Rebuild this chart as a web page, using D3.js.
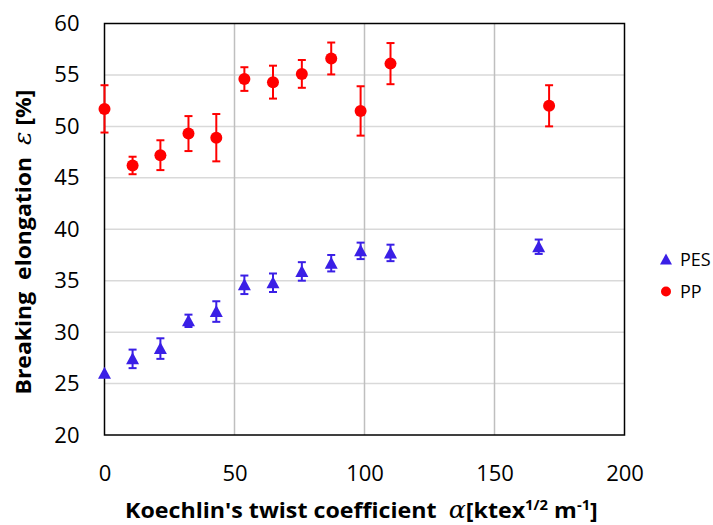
<!DOCTYPE html>
<html><head><meta charset="utf-8">
<script src="https://cdn.jsdelivr.net/npm/d3@7"></script>
<style>
body{margin:0;background:#fff;}
svg text{white-space:pre;}
</style></head>
<body><svg id="c" width="713" height="525"></svg>
<script>
const pesX = [0, 10.8, 21.5, 32.3, 43, 53.8, 64.8, 75.9, 87.2, 98.5, 110, 167];
const pesY = [26.0, 27.4, 28.4, 31.1, 32.0, 34.6, 34.8, 35.9, 36.7, 37.9, 37.7, 38.3];
const pesErr = [0, 0.9, 1.0, 0.6, 1.0, 0.9, 0.9, 0.9, 0.8, 0.8, 0.8, 0.7];
const ppX = [0, 10.8, 21.5, 32.3, 43, 53.8, 64.8, 75.9, 87.2, 98.5, 110, 171];
const ppY = [51.7, 46.2, 47.2, 49.3, 48.9, 54.6, 54.3, 55.1, 56.6, 51.5, 56.1, 52.0];
const ppErr = [2.3, 0.85, 1.45, 1.7, 2.3, 1.15, 1.6, 1.35, 1.55, 2.4, 2.0, 2.0];
const xTicks = [0, 50, 100, 150, 200];
const yTicks = [20, 25, 30, 35, 40, 45, 50, 55, 60];
const seriesNames = ["PES", "PP"];
const colors = {PES: "#3a1fe6", PP: "#ff0000"};

const svg = d3.select("#c");
const L = 104.5, R = 624.5, T = 23.5, B = 435;
const x = d3.scaleLinear().domain([0, 200]).range([L, R]);
const y = d3.scaleLinear().domain([20, 60]).range([B, T]);
const font = "'Open Sans', sans-serif";

// gridlines
svg.append("g").selectAll("line").data(yTicks.slice(1, -1)).join("line")
  .attr("x1", L).attr("x2", R).attr("y1", d => y(d)).attr("y2", d => y(d))
  .attr("stroke", "#d9d9d9").attr("stroke-width", 1.5);
svg.append("g").selectAll("line").data(xTicks.slice(1, -1)).join("line")
  .attr("y1", T).attr("y2", B).attr("x1", d => x(d)).attr("x2", d => x(d))
  .attr("stroke", "#bfbfbf").attr("stroke-width", 1.5);

// border
svg.append("rect").attr("x", L).attr("y", T).attr("width", R - L).attr("height", B - T)
  .attr("fill", "none").attr("stroke", "#000").attr("stroke-width", 1.5);

// axes labels via d3 axes (no lines)
const xa = svg.append("g").attr("transform", `translate(0,${B})`)
  .call(d3.axisBottom(x).tickValues(xTicks).tickSize(0).tickPadding(30));
const ya = svg.append("g").attr("transform", `translate(${L},0)`)
  .call(d3.axisLeft(y).tickValues(yTicks).tickSize(0).tickPadding(25));
[xa, ya].forEach(a => {
  a.select(".domain").remove();
  a.selectAll("text").attr("font-family", font).attr("font-size", 22).attr("fill", "#000");
});

// error bars
function errBars(xs, ys, es, col) {
  const g = svg.append("g").attr("stroke", col).attr("stroke-width", 2).attr("fill", "none");
  const d = xs.map((v, i) => ({x: v, y: ys[i], e: es[i]})).filter(d => d.e > 0);
  g.selectAll(".v").data(d).join("line")
    .attr("x1", d => x(d.x)).attr("x2", d => x(d.x))
    .attr("y1", d => y(d.y - d.e)).attr("y2", d => y(d.y + d.e));
  g.selectAll(".t").data(d).join("line")
    .attr("x1", d => x(d.x) - 4).attr("x2", d => x(d.x) + 4)
    .attr("y1", d => y(d.y + d.e)).attr("y2", d => y(d.y + d.e));
  g.selectAll(".b").data(d).join("line")
    .attr("x1", d => x(d.x) - 4).attr("x2", d => x(d.x) + 4)
    .attr("y1", d => y(d.y - d.e)).attr("y2", d => y(d.y - d.e));
}
errBars(pesX, pesY, pesErr, colors.PES);
errBars(ppX, ppY, ppErr, colors.PP);

const tri = "M0,-6.5L6.5,5.5L-6.5,5.5Z";
svg.append("g").selectAll("path").data(pesX.map((v, i) => [v, pesY[i]])).join("path")
  .attr("d", tri).attr("transform", d => `translate(${x(d[0])},${y(d[1])})`)
  .attr("fill", colors.PES);
svg.append("g").selectAll("circle").data(ppX.map((v, i) => [v, ppY[i]])).join("circle")
  .attr("cx", d => x(d[0])).attr("cy", d => y(d[1])).attr("r", 6)
  .attr("fill", colors.PP);

// legend
const lg = svg.append("g");
seriesNames.forEach((n, i) => {
  const cy = 259.5 + i * 32;
  if (n === "PES") lg.append("path").attr("d", "M0,-6L6,5L-6,5Z").attr("transform", `translate(666,${cy})`).attr("fill", colors[n]);
  else lg.append("circle").attr("cx", 666).attr("cy", cy).attr("r", 5).attr("fill", colors[n]);
  lg.append("text").attr("x", 680).attr("y", cy + 6.5).attr("font-family", font)
    .attr("font-size", 18).attr("fill", "#000").text(n);
});

// axis titles
function fit(sel, targetW, cx, cy, rot) {
  const bb = sel.node().getBBox();
  const s = targetW / bb.width;
  sel.attr("transform", `translate(${cx},${cy}) rotate(${rot}) scale(${s},1) translate(${-(bb.x + bb.width / 2)},0)`);
}
const xt = svg.append("text").attr("font-family", font).attr("font-size", 22).attr("font-weight", "bold").attr("fill", "#000").attr("y", 0);
xt.append("tspan").text("Koechlin's twist coefficient  ");
xt.append("tspan").attr("font-family", "'DejaVu Serif', serif").attr("font-style", "italic").attr("font-weight", "normal").attr("font-size", 24).text("α");
xt.append("tspan").text("[ktex");
xt.append("tspan").attr("font-size", 14).attr("dy", -8).text("1/2");
xt.append("tspan").attr("dy", 8).text(" m");
xt.append("tspan").attr("font-size", 14).attr("dy", -8).text("-1");
xt.append("tspan").attr("dy", 8).text("]");
fit(xt, 473, 361.5, 518, 0);

const yt = svg.append("text").attr("font-family", font).attr("font-size", 22).attr("font-weight", "bold").attr("fill", "#000").attr("y", 0);
yt.append("tspan").text("Breaking  elongation  ");
yt.append("tspan").attr("font-family", "'DejaVu Serif', serif").attr("font-style", "italic").attr("font-weight", "normal").attr("font-size", 24).text("ε");
yt.append("tspan").text(" [%]");
fit(yt, 305, 31, 242, -90);
</script></body></html>
